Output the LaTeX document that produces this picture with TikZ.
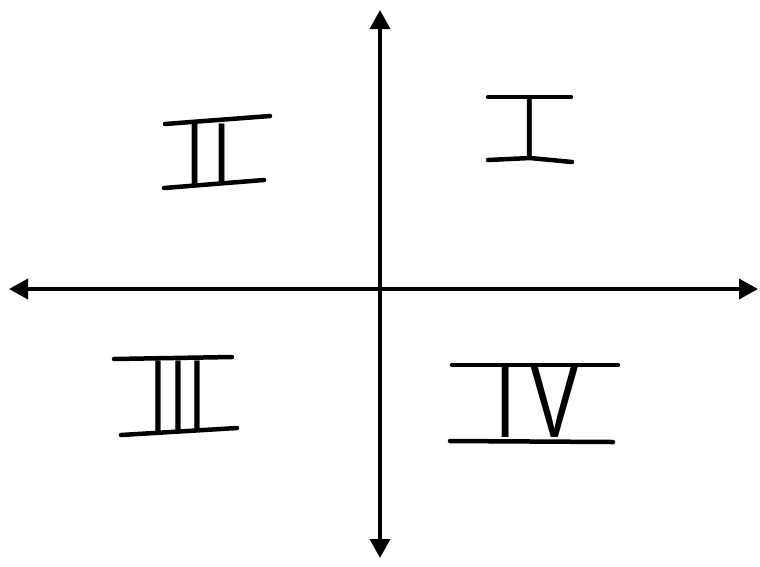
\documentclass[tikz,border=0pt]{standalone}
\usepackage{fontspec}
\setmainfont{Liberation Sans}
\usetikzlibrary{arrows.meta}
\tikzset{
  axis/.style={line width=3.6pt, -{Triangle[width=20pt,length=19pt]}},
  bar/.style={line width=4.5pt, line cap=round},
  numeral/.style={inner sep=0pt, anchor=base, text=black},
}
\begin{document}
\begin{tikzpicture}[x=1pt,y=-1pt]
\useasboundingbox (0,0) rectangle (760,566);
% axes
\coordinate (o) at (380,289);
\coordinate (top) at (380,10);
\coordinate (bot) at (380,558);
\coordinate (lft) at (9,289);
\coordinate (rgt) at (758,289);
\draw[axis] (o) -- (top);
\draw[axis] (o) -- (bot);
\draw[axis] (o) -- (lft);
\draw[axis] (o) -- (rgt);
% numeral I
\node[numeral] (n1) at (530,158) {\scalebox{0.6}[1]{\fontsize{88}{88}\selectfont I}};
\draw[bar] (488,97) -- (571,97);
\draw[bar] (488,160) -- (530,158) -- (572,162);
% numeral II
\node[numeral] (n2) at (209,184) {\scalebox{0.7}[1]{\addfontfeature{LetterSpace=16}\fontsize{88}{88}\selectfont II}};
\draw[bar] (165,124) -- (270,116);
\draw[bar] (164,188) -- (264,180);
% numeral III
\node[numeral] (n3) at (178,432) {\scalebox{0.55}[1]{\addfontfeature{LetterSpace=6}\fontsize{104}{104}\selectfont III}};
\draw[bar] (114,359) -- (232,357);
\draw[bar] (121,435) -- (237,428);
% numeral IV
\node[numeral] (n4) at (537,437) {\scalebox{0.7}[1]{\addfontfeature{LetterSpace=20}\fontsize{104}{104}\selectfont IV}};
\draw[bar] (452,365) -- (618,365);
\draw[bar] (450,441) -- (613,442);
\end{tikzpicture}
\end{document}
